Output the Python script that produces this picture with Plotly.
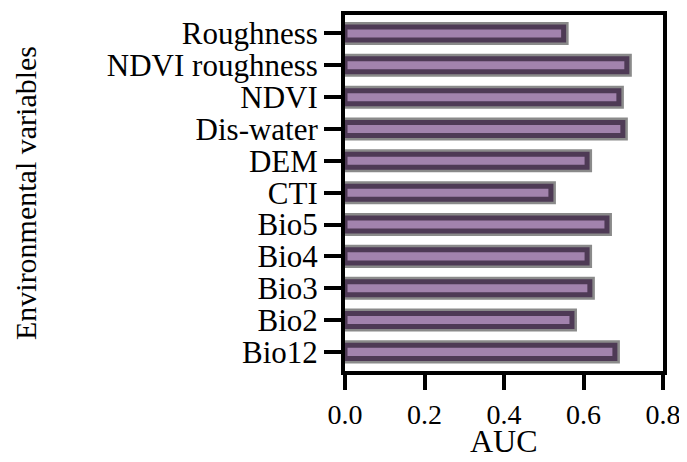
import plotly.graph_objects as go

categories = ["Bio12", "Bio2", "Bio3", "Bio4", "Bio5", "CTI", "DEM",
              "Dis-water", "NDVI", "NDVI roughness", "Roughness"]
auc = [0.679, 0.571, 0.616, 0.609, 0.659, 0.518, 0.609, 0.699, 0.689, 0.709, 0.550]
x_ticks = [0.0, 0.2, 0.4, 0.6, 0.8]
x_tick_labels = ["0.0", "0.2", "0.4", "0.6", "0.8"]

font_family = "Liberation Serif, Times New Roman, serif"

fig = go.Figure()
# outer gray halo
fig.add_trace(go.Bar(
    x=auc, y=categories, orientation="h", width=0.41,
    marker=dict(color="#a283ad", line=dict(color="#8a8a8a", width=10)),
    hoverinfo="skip", showlegend=False,
))
# inner dark border + fill
fig.add_trace(go.Bar(
    x=auc, y=categories, orientation="h", width=0.41,
    marker=dict(color="#a283ad", line=dict(color="#4e3a55", width=5)),
    showlegend=False,
))

fig.update_layout(
    width=671, height=446,
    margin=dict(l=337, r=16, t=6.5, b=83, autoexpand=False),
    barmode="overlay",
    plot_bgcolor="white", paper_bgcolor="white",
    font=dict(family=font_family, color="black"),
    annotations=[dict(
        text="AUC", xref="paper", yref="paper", x=0.5, y=0,
        xanchor="center", yanchor="bottom", yshift=-90, showarrow=False,
        font=dict(size=32, family=font_family, color="black"),
    )],
)
fig.update_xaxes(
    range=[0, 0.8], tickmode="array", tickvals=x_ticks, ticktext=x_tick_labels,
    ticklabeloverflow="allow",
    showgrid=False, zeroline=False,
    showline=True, linecolor="black", linewidth=4, mirror=True,
    ticks="outside", ticklen=15, tickwidth=4, tickcolor="black",
    tickfont=dict(size=28, family=font_family),
)
fig.update_yaxes(
    type="category", categoryorder="array", categoryarray=categories,
    tickmode="array", tickvals=categories, ticktext=categories,
    range=[-0.6, 10.58],
    showgrid=False, zeroline=False,
    showline=True, linecolor="black", linewidth=4, mirror=True,
    ticks="outside", ticklen=17, tickwidth=4, tickcolor="black",
    tickfont=dict(size=31, family=font_family),
    title=dict(text="Environmental variables", font=dict(size=30, family=font_family), standoff=62),
)

fig.write_html("out.html")
